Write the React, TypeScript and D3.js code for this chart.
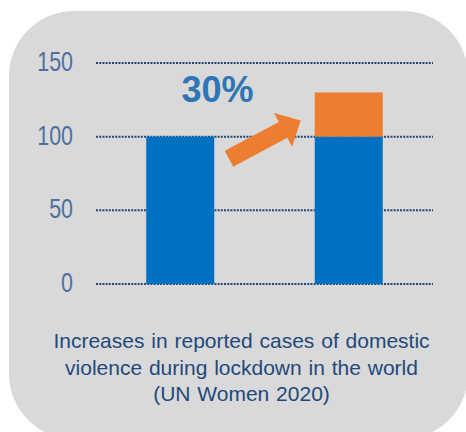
import React from "react";
import * as d3 from "d3";

const categories = ["Before lockdown", "During lockdown"];
const baseValues = [100, 100];
const increaseValues = [0, 30];
const yTicks = [0, 50, 100, 150];
const annotation = "30%";
const captionLines = [
  "Increases in reported cases of domestic",
  "violence during lockdown in the world",
  "(UN Women 2020)",
];

const W = 466;
const H = 432;

export default function App() {
  const x = d3.scalePoint<string>().domain(categories).range([96, 433]).padding(0.5);
  const y = d3.scaleLinear().domain([0, 150]).range([284, 63]);
  const barW = 68;

  // arrow annotation geometry (decorative)
  const tail = [229, y(85)];
  const tip = [300.7, y(111)];
  const dx = tip[0] - tail[0];
  const dy = tip[1] - tail[1];
  const len = Math.hypot(dx, dy);
  const ang = (Math.atan2(dy, dx) * 180) / Math.PI;
  const sw = 18, hw = 38.5, hl = 20;
  const arrowPts = [
    [0, -sw / 2],
    [len - hl, -sw / 2],
    [len - hl, -hw / 2],
    [len, 0],
    [len - hl, hw / 2],
    [len - hl, sw / 2],
    [0, sw / 2],
  ];

  return (
    <svg
      width={W}
      height={H}
      style={{ position: "absolute", left: 0, top: 0, background: "#ffffff" }}
    >
      <rect x={9} y={11} width={459} height={428} rx={65} ry={65} fill="#d9d9d9" />
      {yTicks.map((t) => (
        <g key={t}>
          <line
            x1={96}
            x2={433}
            y1={y(t)}
            y2={y(t)}
            stroke="#24477a"
            strokeWidth={2}
            strokeDasharray="2,1.2"
          />
          <text
            transform={`translate(73,${y(t) + 8}) scale(0.78,1)`}
            textAnchor="end"
            fontFamily="'Liberation Sans', Arial, sans-serif"
            fontSize={27.5}
            fill="#4d70a0"
          >
            {t}
          </text>
        </g>
      ))}
      {categories.map((c, i) => (
        <g key={c}>
          <rect
            x={(x(c) as number) - barW / 2}
            y={y(baseValues[i])}
            width={barW}
            height={y(0) - y(baseValues[i])}
            fill="#0070c0"
          />
          {increaseValues[i] > 0 && (
            <rect
              x={(x(c) as number) - barW / 2}
              y={y(baseValues[i] + increaseValues[i])}
              width={barW}
              height={y(baseValues[i]) - y(baseValues[i] + increaseValues[i])}
              fill="#ed7d31"
            />
          )}
        </g>
      ))}
      <polygon
        points={arrowPts.map((p) => p.join(",")).join(" ")}
        transform={`translate(${tail[0]},${tail[1]}) rotate(${ang})`}
        fill="#ed7d31"
      />
      <text
        x={217.5}
        y={101.5}
        textAnchor="middle"
        fontFamily="'Liberation Sans', Arial, sans-serif"
        fontWeight="bold"
        fontSize={36}
        fill="#2e75b6"
      >
        {annotation}
      </text>
      {captionLines.map((l, i) => (
        <text
          key={i}
          x={241.5}
          y={348 + i * 26.5}
          textAnchor="middle"
          fontFamily="'Liberation Sans', Arial, sans-serif"
          fontSize={21}
          wordSpacing={1}
          fill="#1f497d"
        >
          {l}
        </text>
      ))}
    </svg>
  );
}
